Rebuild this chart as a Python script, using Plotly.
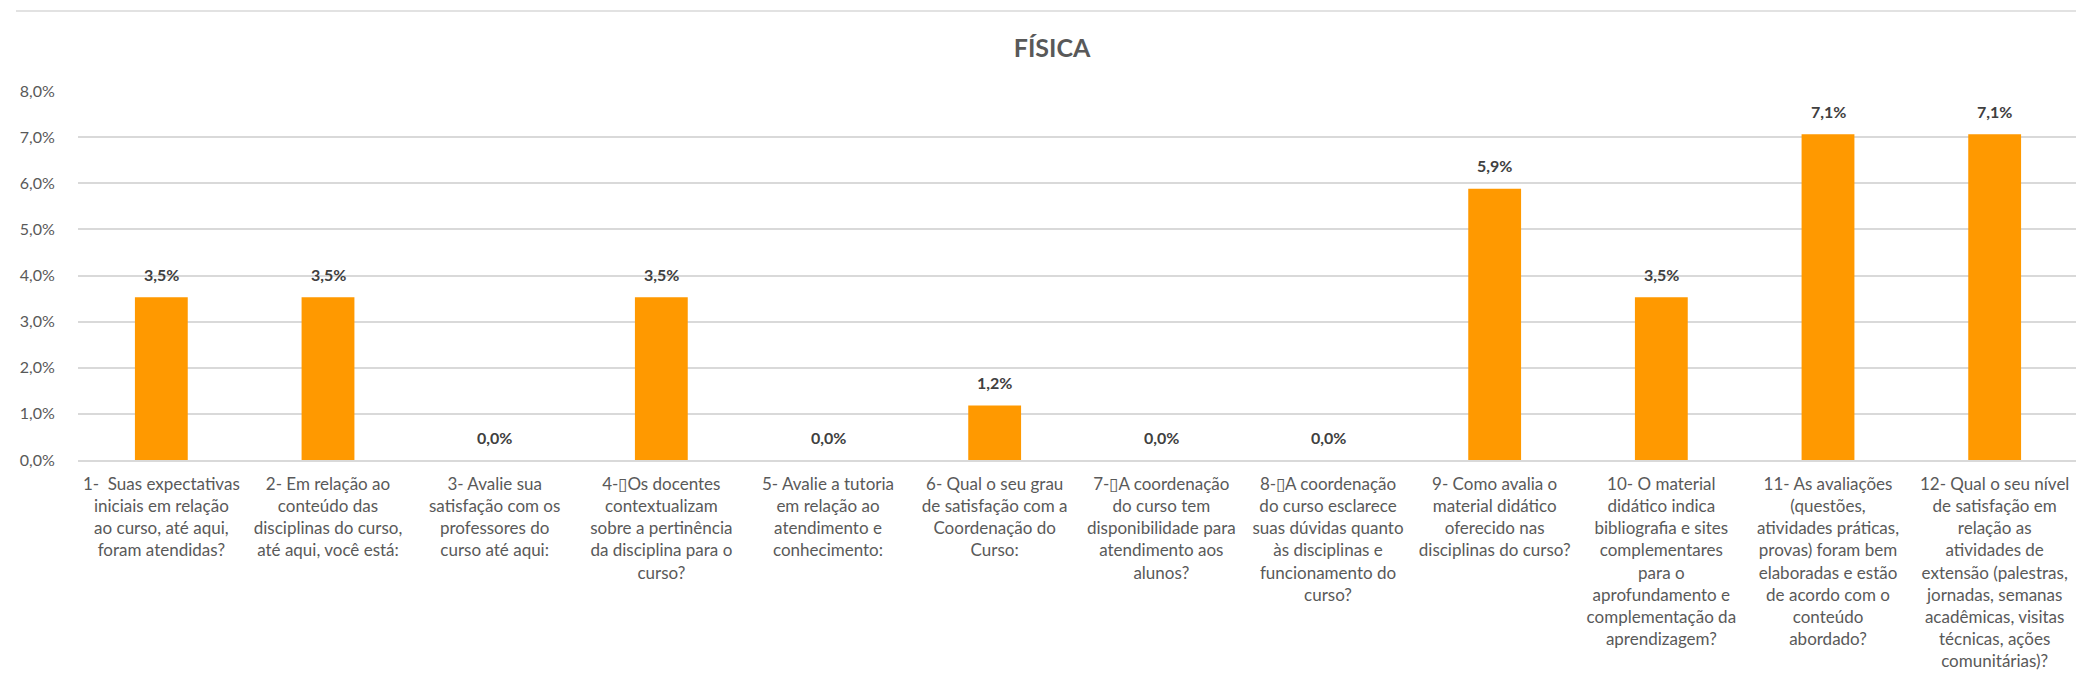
import plotly.graph_objects as go

# questions (x categories), as broken into lines in the original chart
questions = [
    "1-  Suas expectativas<br>iniciais em relação<br>ao curso, até aqui,<br>foram atendidas?",
    "2- Em relação ao<br>conteúdo das<br>disciplinas do curso,<br>até aqui, você está:",
    "3- Avalie sua<br>satisfação com os<br>professores do<br>curso até aqui:",
    "4-\u25afOs docentes<br>contextualizam<br>sobre a pertinência<br>da disciplina para o<br>curso?",
    "5- Avalie a tutoria<br>em relação ao<br>atendimento e<br>conhecimento:",
    "6- Qual o seu grau<br>de satisfação com a<br>Coordenação do<br>Curso:",
    "7-\u25afA coordenação<br>do curso tem<br>disponibilidade para<br>atendimento aos<br>alunos?",
    "8-\u25afA coordenação<br>do curso esclarece<br>suas dúvidas quanto<br>às disciplinas e<br>funcionamento do<br>curso?",
    "9- Como avalia o<br>material didático<br>oferecido nas<br>disciplinas do curso?",
    "10- O material<br>didático indica<br>bibliografia e sites<br>complementares<br>para o<br>aprofundamento e<br>complementação da<br>aprendizagem?",
    "11- As avaliações<br>(questões,<br>atividades práticas,<br>provas) foram bem<br>elaboradas e estão<br>de acordo com o<br>conteúdo<br>abordado?",
    "12- Qual o seu nível<br>de satisfação em<br>relação as<br>atividades de<br>extensão (palestras,<br>jornadas, semanas<br>acadêmicas, visitas<br>técnicas, ações<br>comunitárias)?",
]

# percentage per question
percent = [3.53, 3.53, 0.0, 3.53, 0.0, 1.18, 0.0, 0.0, 5.88, 3.53, 7.06, 7.06]

y_ticks = [0, 1, 2, 3, 4, 5, 6, 7, 8]
y_tick_labels = ["0,0%", "1,0%", "2,0%", "3,0%", "4,0%", "5,0%", "6,0%", "7,0%", "8,0%"]

FONT = "Lato"

fig = go.Figure()
fig.add_trace(go.Bar(x=questions, y=percent, marker_color="#FF9900",
                     marker_line_width=0, hoverinfo="skip"))

# data labels above the bars
for q, v in zip(questions, percent):
    fig.add_annotation(x=q, y=v, text=f"{v:.1f}%".replace(".", ","),
                       showarrow=False, yanchor="middle", yshift=23,
                       font=dict(family=FONT, size=16, color="#404040", weight="bold"))

# thin border line at the top of the chart area
fig.add_shape(type="line", xref="paper", yref="paper", x0=-0.031, x1=1.0,
              y0=1.2168, y1=1.2168, line=dict(color="#D9D9D9", width=1.5))

# page body adds 8px, so margins are shifted accordingly
fig.update_layout(
    width=2084, height=700,
    margin=dict(l=65, r=14, t=83, b=248),
    paper_bgcolor="white", plot_bgcolor="white",
    bargap=0.683,
    showlegend=False,
    font=dict(family=FONT, color="#595959"),
    title=dict(text="<b>FÍSICA</b>", x=0.501, xanchor="center", y=0.943, yanchor="middle",
               font=dict(family=FONT, size=25, color="#595959")),
)
fig.update_yaxes(range=[0, 8], tickmode="array", tickvals=y_ticks, ticktext=y_tick_labels,
                 showgrid=True, gridcolor="#D9D9D9", gridwidth=1.5,
                 zeroline=False, showline=False,
                 ticks="outside", ticklen=19, tickcolor="rgba(0,0,0,0)",
                 tickfont=dict(family=FONT, size=16, color="#595959"))
fig.update_xaxes(showline=True, linecolor="#D9D9D9", linewidth=1.5,
                 ticks="outside", ticklen=8, tickcolor="rgba(0,0,0,0)",
                 tickangle=0,
                 tickfont=dict(family=FONT, size=17, color="#595959"))

fig.write_html("out.html")
